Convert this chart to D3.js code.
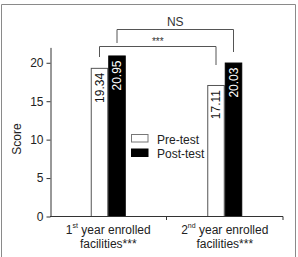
<!DOCTYPE html>
<html><head><meta charset="utf-8">
<script src="https://cdn.jsdelivr.net/npm/d3@7"></script>
<style>body{margin:0;background:#fff}svg{display:block;font-family:"Liberation Sans",Arial,sans-serif}</style>
</head><body>
<script>
const categories = ["1st year enrolled facilities***", "2nd year enrolled facilities***"];
const catLine1 = [["1", "st", " year enrolled"], ["2", "nd", " year enrolled"]];
const catLine2 = ["facilities***", "facilities***"];
const series = ["Pre-test", "Post-test"];
const preTest = [19.34, 17.11];
const postTest = [20.95, 20.03];
const yTicks = [0, 5, 10, 15, 20];
const comparisons = [
  {label: "***", from: [0, 0], to: [1, 0]},
  {label: "NS", from: [0, 1], to: [1, 1]}
];

const W = 298, H = 257;
const svg = d3.select("body").append("svg").attr("width", W).attr("height", H);

// outer frame
svg.append("path").attr("d", "M1.5,257 V4.5 H295.5 V257")
  .attr("fill", "none").attr("stroke", "#8a8a8a").attr("stroke-width", 1);

const y = d3.scaleLinear().domain([0, 22]).range([216.5, 47.4]);
const x0 = d3.scaleBand().domain(categories).range([50, 283]).padding(0);
const x1 = d3.scaleBand().domain(series).range([-17.5, 17.5]);
const values = [preTest, postTest];
const cx = (ci, si) => x0(categories[ci]) + x0.bandwidth() / 2 + x1(series[si]) + x1.bandwidth() / 2;

// y axis
const yAxis = d3.axisLeft(y).tickValues(yTicks).tickSize(4).tickPadding(3).tickSizeOuter(0);
const gy = svg.append("g").attr("transform", "translate(50.5,0)").call(yAxis);
gy.selectAll("text").attr("font-size", 12).attr("fill", "#222").attr("font-family", "Liberation Sans, Arial, sans-serif");
gy.selectAll("line,path").attr("stroke", "#333");

// bars
categories.forEach((c, ci) => {
  series.forEach((s, si) => {
    const v = values[si][ci];
    const xl = x0(c) + x0.bandwidth() / 2 + x1(s);
    svg.append("rect")
      .attr("x", xl + 0.5).attr("y", y(v) + 0.5)
      .attr("width", x1.bandwidth() - 1).attr("height", y(0) - y(v) - 0.5)
      .attr("fill", si === 0 ? "#fff" : "#000")
      .attr("stroke", si === 0 ? "#555" : "#000").attr("stroke-width", 1);
    const tx = xl + x1.bandwidth() / 2;
    svg.append("text")
      .attr("transform", `translate(${tx},${y(v) + 5}) rotate(-90)`)
      .attr("text-anchor", "end").attr("dominant-baseline", "central")
      .attr("font-size", 12).attr("fill", si === 0 ? "#111" : "#fff")
      .text(v.toFixed(2));
  });
});

// x axis
const xa = svg.append("g");
xa.append("line").attr("x1", 50).attr("x2", 283).attr("y1", 216.5).attr("y2", 216.5).attr("stroke", "#333");
categories.forEach((c) => {
  const xe = x0(c) + x0.bandwidth();
  xa.append("line").attr("x1", xe).attr("x2", xe).attr("y1", 216.5).attr("y2", 220).attr("stroke", "#333");
});
categories.forEach((c, ci) => {
  const xc = x0(c) + x0.bandwidth() / 2;
  const t = svg.append("text").attr("x", xc).attr("y", 234).attr("text-anchor", "middle")
    .attr("font-size", 12).attr("fill", "#222");
  t.append("tspan").text(catLine1[ci][0]);
  t.append("tspan").attr("font-size", 7).attr("dy", -6).text(catLine1[ci][1]);
  t.append("tspan").attr("dy", 6).text(catLine1[ci][2]);
  svg.append("text").attr("x", xc).attr("y", 247.5).attr("text-anchor", "middle")
    .attr("font-size", 12).attr("fill", "#222").text(catLine2[ci]);
});

// y label
svg.append("text").attr("transform", "translate(21,139) rotate(-90)")
  .attr("text-anchor", "middle").attr("font-size", 12).attr("fill", "#222").text("Score");

// brackets
const levels = [{top: 46.5, left: 57, right: 65, ty: 45, fs: 10},
                {top: 29.5, left: 43, right: 52, ty: 25.5, fs: 12}];
comparisons.forEach((cmp, i) => {
  const L = levels[i];
  const xa1 = cx(cmp.from[0], cmp.from[1]), xa2 = cx(cmp.to[0], cmp.to[1]);
  svg.append("path")
    .attr("d", `M${xa1},${L.left} V${L.top} H${xa2} V${L.right}`)
    .attr("fill", "none").attr("stroke", "#555").attr("stroke-width", 1);
  svg.append("text").attr("x", (xa1 + xa2) / 2).attr("y", L.ty).attr("text-anchor", "middle")
    .attr("font-size", L.fs).attr("fill", "#333").text(cmp.label);
});

// legend
series.forEach((s, si) => {
  const yy = 134.5 + si * 14.5;
  svg.append("rect").attr("x", 131.5).attr("y", yy).attr("width", 16.5).attr("height", 7.5)
    .attr("fill", si === 0 ? "#fff" : "#000").attr("stroke", si === 0 ? "#777" : "#000");
  svg.append("text").attr("x", 157).attr("y", yy + 9).attr("font-size", 12).attr("fill", "#222").text(s);
});
</script>
</body></html>
